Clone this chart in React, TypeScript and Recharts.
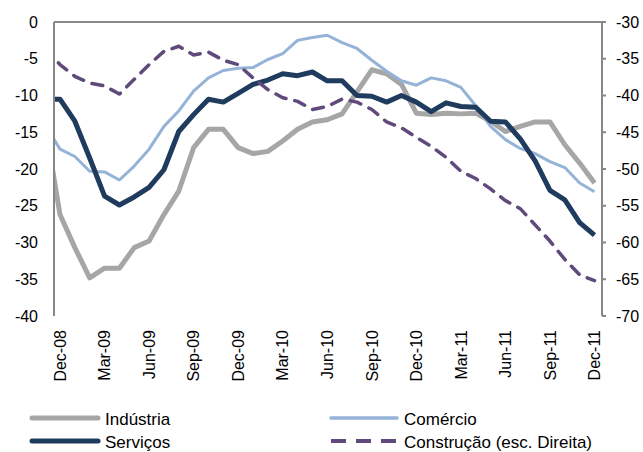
import { LineChart, Line, XAxis, YAxis, ReferenceLine } from 'recharts'

// monthly index, Nov-08 sits just left of the plot and gets clipped
const months = [
  'Nov-08', 'Dec-08', 'Jan-09', 'Feb-09', 'Mar-09', 'Apr-09', 'May-09', 'Jun-09', 'Jul-09', 'Aug-09', 'Sep-09',
  'Oct-09', 'Nov-09', 'Dec-09', 'Jan-10', 'Feb-10', 'Mar-10', 'Apr-10', 'May-10', 'Jun-10', 'Jul-10', 'Aug-10',
  'Sep-10', 'Oct-10', 'Nov-10', 'Dec-10', 'Jan-11', 'Feb-11', 'Mar-11', 'Apr-11', 'May-11', 'Jun-11', 'Jul-11',
  'Aug-11', 'Sep-11', 'Oct-11', 'Nov-11', 'Dec-11',
]

const industria = [
  -14, -26.2, -30.7, -34.8, -33.5, -33.5, -30.7, -29.8, -26.2, -23.0, -17.1,
  -14.6, -14.6, -17.1, -17.9, -17.6, -16.2, -14.6, -13.6, -13.3, -12.5, -9.5,
  -6.5, -7.05, -8.5, -12.4, -12.6, -12.4, -12.5, -12.4, -13.5, -14.9, -14.2,
  -13.6, -13.6, -16.7, -19.2, -21.9,
]

const comercio = [
  -14.0, -17.3, -18.3, -20.3, -20.4, -21.5, -19.6, -17.3, -14.2, -12.1, -9.4,
  -7.6, -6.6, -6.3, -6.2, -5.1, -4.3, -2.5, -2.1, -1.8, -2.8, -3.6,
  -5.2, -6.7, -8.0, -8.6, -7.6, -8.0, -8.9, -11.4, -14.2, -16.0, -17.2,
  -17.9, -19.0, -19.8, -21.9, -23.1,
]

const servicos = [
  -10.5, -10.5, -13.5, -18.5, -23.7, -24.9, -23.8, -22.5, -20.1, -14.9, -12.6,
  -10.5, -10.9, -9.7, -8.5, -7.9, -7.05, -7.3, -6.8, -8.0, -8.0, -10.0,
  -10.1, -10.9, -10.0, -10.9, -12.2, -11.0, -11.5, -11.6, -13.5, -13.6, -15.9,
  -18.9, -22.9, -24.2, -27.3, -29.0,
]

// right axis
const construcao = [
  -33.5, -35.8, -37.4, -38.3, -38.7, -39.8, -37.8, -35.8, -34.0, -33.3, -34.5,
  -34.1, -35.2, -35.8, -37.6, -39.2, -40.3, -40.8, -41.9, -41.5, -40.5, -40.9,
  -41.9, -43.6, -44.4, -45.7, -46.9, -48.4, -50.3, -51.3, -52.7, -54.3, -55.4,
  -57.6, -59.8, -62.3, -64.4, -65.2,
]

const tickMonths = [
  'Dec-08', 'Mar-09', 'Jun-09', 'Sep-09', 'Dec-09', 'Mar-10', 'Jun-10',
  'Sep-10', 'Dec-10', 'Mar-11', 'Jun-11', 'Sep-11', 'Dec-11',
]
const leftTicks = [0, -5, -10, -15, -20, -25, -30, -35, -40]
const rightTicks = [-30, -35, -40, -45, -50, -55, -60, -65, -70]

const data = months.map((m, i) => ({
  i,
  month: m,
  industria: industria[i],
  comercio: comercio[i],
  servicos: servicos[i],
  construcao: construcao[i],
}))
const tickIdx = tickMonths.map(m => months.indexOf(m))

const FONT = '"Liberation Sans", Arial, sans-serif'
const AXIS = '#878787'
const C_IND = '#A6A6A6'
const C_COM = '#95B3D7'
const C_SER = '#1F3B5E'
const C_CON = '#604A7B'

function MonthTick(props: any) {
  const { x, y, payload } = props
  return (
    <text
      x={x}
      y={y}
      transform={`rotate(-90 ${x} ${y})`}
      textAnchor="end"
      dy="0.36em"
      fontSize={16}
      fontFamily={FONT}
      fill="#000"
    >
      {months[payload.value]}
    </text>
  )
}

const legendItems = [
  { label: 'Indústria', color: C_IND, width: 5, dash: undefined, x: 32, y: 13 },
  { label: 'Comércio', color: C_COM, width: 3.5, dash: undefined, x: 331, y: 13 },
  { label: 'Serviços', color: C_SER, width: 5, dash: undefined, x: 32, y: 36 },
  { label: 'Construção (esc. Direita)', color: C_CON, width: 4, dash: '15 10', x: 331, y: 36 },
]

export default function App() {
  return (
    <div style={{ position: 'absolute', left: 0, top: 0, width: 643, height: 452, background: '#fff' }}>
      <LineChart
        width={643}
        height={452}
        data={data}
        margin={{ top: 22, right: 0, bottom: 56, left: 0 }}
      >
        <XAxis
          dataKey="i"
          type="number"
          domain={[0.596, 37.505]}
          allowDataOverflow
          ticks={tickIdx}
          interval={0}
          axisLine={false}
          tickLine={false}
          tickSize={6}
          tickMargin={8}
          height={80}
          tick={<MonthTick />}
        />
        <YAxis
          yAxisId="left"
          domain={[-40, 0]}
          ticks={leftTicks}
          interval={0}
          width={54}
          axisLine={{ stroke: AXIS, strokeWidth: 2 }}
          tickLine={false}
          tickSize={6}
          tickMargin={10}
          tick={{ fontSize: 16, fontFamily: FONT, fill: '#000' }}
        />
        <YAxis
          yAxisId="right"
          orientation="right"
          domain={[-70, -30]}
          ticks={rightTicks}
          interval={0}
          width={41}
          axisLine={{ stroke: AXIS, strokeWidth: 2 }}
          tickLine={{ stroke: AXIS, strokeWidth: 2 }}
          tickSize={4}
          tickMargin={10}
          tick={{ fontSize: 16, fontFamily: FONT, fill: '#000' }}
        />
        <ReferenceLine yAxisId="left" y={0} stroke={AXIS} strokeWidth={2} />
        <Line
          yAxisId="left"
          dataKey="industria"
          stroke={C_IND}
          strokeWidth={5}
          dot={false}
          activeDot={false}
          strokeLinejoin="round"
          isAnimationActive={false}
        />
        <Line
          yAxisId="left"
          dataKey="comercio"
          stroke={C_COM}
          strokeWidth={3}
          dot={false}
          activeDot={false}
          strokeLinejoin="round"
          isAnimationActive={false}
        />
        <Line
          yAxisId="left"
          dataKey="servicos"
          stroke={C_SER}
          strokeWidth={5}
          dot={false}
          activeDot={false}
          strokeLinejoin="round"
          isAnimationActive={false}
        />
        <Line
          yAxisId="right"
          dataKey="construcao"
          stroke={C_CON}
          strokeWidth={3.5}
          strokeDasharray="11 9"
          strokeLinecap="round"
          dot={false}
          activeDot={false}
          strokeLinejoin="round"
          isAnimationActive={false}
        />
      </LineChart>
      <svg
        width={643}
        height={47}
        style={{ position: 'absolute', left: 0, top: 405 }}
      >
        {legendItems.map(it => (
          <g key={it.label}>
            <line
              x1={it.x}
              x2={it.x + 66}
              y1={it.y}
              y2={it.y}
              stroke={it.color}
              strokeWidth={it.width}
              strokeDasharray={it.dash}
              strokeLinecap={it.dash ? 'butt' : 'round'}
            />
            <text
              x={it.x + 73}
              y={it.y + 1}
              dy="0.35em"
              fontSize={17}
              fontFamily={FONT}
              fill="#000"
            >
              {it.label}
            </text>
          </g>
        ))}
      </svg>
    </div>
  )
}
